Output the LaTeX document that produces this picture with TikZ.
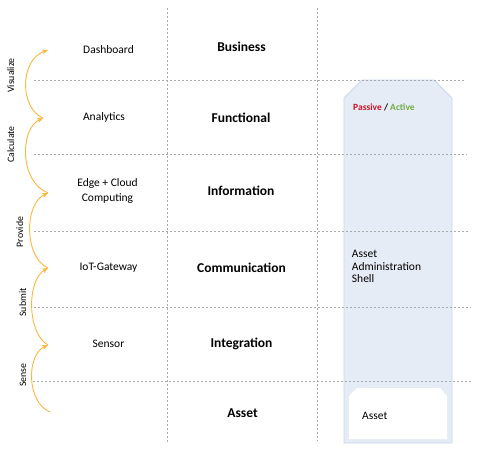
\documentclass[tikz,border=0pt]{standalone}
\usepackage{fontspec}
\setmainfont{Carlito}
\usetikzlibrary{arrows.meta}
\definecolor{arcorange}{RGB}{251,182,62}
\definecolor{gridgray}{RGB}{170,170,170}
\definecolor{shellfill}{RGB}{230,236,245}
\definecolor{shelldraw}{RGB}{202,214,234}
\definecolor{passivered}{RGB}{200,20,40}
\definecolor{activegreen}{RGB}{112,173,71}
\tikzset{
  grid line/.style={draw=gridgray, line width=0.6pt, dash pattern=on 2pt off 2pt},
  lab/.style={font=\fontsize{11.5}{15}\selectfont, inner sep=0pt, anchor=base, align=center},
  layer/.style={font=\bfseries\fontsize{13.5}{16}\selectfont, inner sep=0pt, anchor=base},
  verb/.style={font=\fontsize{9.8}{12}\selectfont, inner sep=0pt, anchor=base, rotate=90},
  flow/.style={draw=arcorange, line width=0.9pt, -{Stealth[length=6pt,width=5pt]}},
}
\begin{document}
\begin{tikzpicture}[x=1pt,y=-1pt]
\useasboundingbox (0,0) rectangle (481,452);
% shell
\draw[fill=shellfill, draw=shelldraw, line width=0.8pt]
  (344,98) -- (362,80) -- (434,80) -- (452,98) -- (452,443) -- (344,443) -- cycle;
\fill[white] (349,396) -- (357,388) -- (440,388) -- (447,396) -- (447,439) -- (349,439) -- cycle;
% grid
\draw[grid line] (167,8) -- (167,442);
\draw[grid line] (317,8) -- (317,441);
\draw[grid line] (34,80) -- (466,80);
\draw[grid line] (34,154) -- (467,154);
\draw[grid line] (34,231) -- (470,231);
\draw[grid line] (34,307) -- (471,307);
\draw[grid line] (33,381) -- (473,381);
% left labels
\node[lab] (dash) at (108.5,53.7) {Dashboard};
\node[lab] (anal) at (104,120.7) {Analytics};
\node[lab, anchor=center] (edge) at (107.5,191) {Edge + Cloud\\Computing};
\node[lab] (iot) at (108.5,270.7) {IoT-Gateway};
\node[lab] (sens) at (108.5,347.7) {Sensor};
% layers
\node[layer] (business) at (241.5,51.3) {Business};
\node[layer] (functional) at (241,122.3) {Functional};
\node[layer] (information) at (241,195.3) {Information};
\node[layer] (communication) at (241.5,272.3) {Communication};
\node[layer] (integration) at (241.5,347.3) {Integration};
\node[layer] (asset) at (242.5,417.3) {Asset};
% shell texts
\node[font=\bfseries\fontsize{9.5}{11}\selectfont, inner sep=0pt, anchor=base west] (pa) at (353,110)
  {\textcolor{passivered}{Passive} / \textcolor{activegreen}{Active}};
\node[font=\fontsize{11.5}{12.5}\selectfont, inner sep=0pt, anchor=center, align=left] (aas) at (386.5,266.5)
  {Asset\\Administration\\Shell};
\node[lab, anchor=base west] (assetbox) at (362,419.7) {Asset};
% verbs
\node[verb] (visualize) at (14,75.5) {Visualize};
\node[verb] (calculate) at (14,144.5) {Calculate};
\node[verb] (provide) at (23,232) {Provide};
\node[verb] (submit) at (26,302.5) {Submit};
\node[verb] (sense) at (26,375) {Sense};
% arcs
\coordinate (a0) at (50,412);
\coordinate (a1) at (48,345);
\coordinate (a2) at (48,268);
\coordinate (a3) at (48,193);
\coordinate (a4) at (43,118);
\coordinate (a5) at (48,50);
\draw[flow] (a0) .. controls (26.3,402) and (26.3,355) .. (a1);
\draw[flow] (a1) .. controls (26.7,333) and (26.7,280) .. (a2);
\draw[flow] (a2) .. controls (24,257) and (24,204) .. (a3);
\draw[flow] (a3) .. controls (19.5,182) and (19.5,129) .. (a4);
\draw[flow] (a4) .. controls (19.5,108) and (19.5,60) .. (a5);
\end{tikzpicture}
\end{document}
